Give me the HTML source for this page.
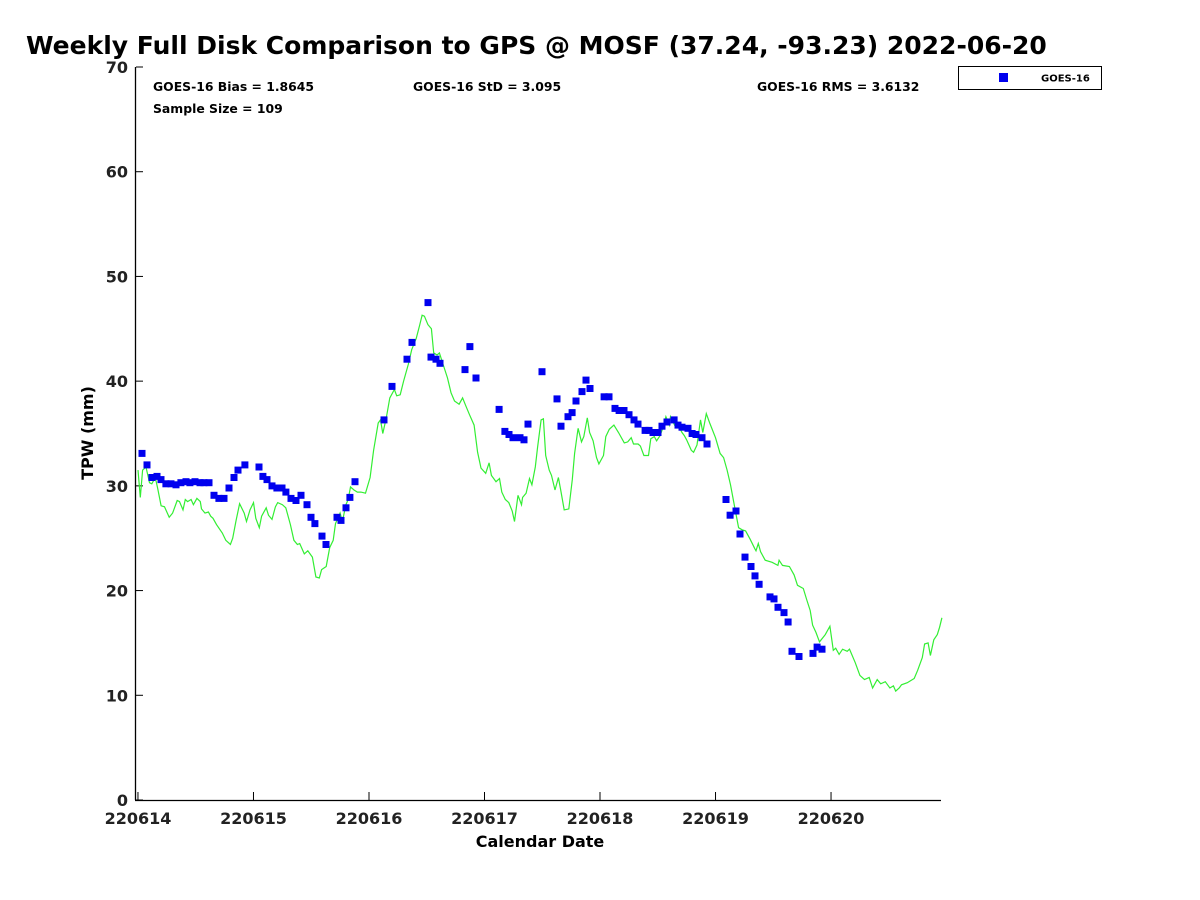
<!DOCTYPE html>
<html><head><meta charset="utf-8">
<style>
html,body{margin:0;padding:0;background:#fff;}
svg{display:block;font-family:"DejaVu Sans","Liberation Sans",sans-serif;}
</style></head>
<body>
<svg id="chart" width="1200" height="900" viewBox="0 0 1200 900">
<text x="26" y="54" font-size="25" font-weight="bold" fill="#000">Weekly Full Disk Comparison to GPS @ MOSF (37.24, -93.23) 2022-06-20</text>
<g id="axes"></g>
<g id="series"></g>
<text x="153" y="91" font-size="12.4" font-weight="bold">GOES-16 Bias = 1.8645</text>
<text x="153" y="113" font-size="12.4" font-weight="bold">Sample Size = 109</text>
<text x="413" y="91" font-size="12.4" font-weight="bold">GOES-16 StD = 3.095</text>
<text x="757" y="91" font-size="12.4" font-weight="bold">GOES-16 RMS = 3.6132</text>
<g>
<rect x="958.5" y="66.5" width="143" height="23" fill="#fff" stroke="#000"/>
<rect x="999" y="73" width="9" height="9" fill="#0000ee"/>
<text x="1041" y="81.5" font-size="10" font-weight="bold">GOES-16</text>
</g>
<text x="540" y="847" font-size="16" font-weight="bold" text-anchor="middle">Calendar Date</text>
<text transform="translate(93,433) rotate(-90)" font-size="16" font-weight="bold" text-anchor="middle">TPW (mm)</text>
</svg>
<script>
const xTickLabels = ["220614","220615","220616","220617","220618","220619","220620"];
const yTicks = [0,10,20,30,40,50,60,70];
const goesDays = [0.035,0.078,0.121,0.165,0.199,0.242,0.286,0.329,0.372,0.416,0.450,0.494,0.537,0.571,0.615,0.658,0.701,0.745,0.788,0.831,0.866,0.926,1.048,1.082,1.117,1.160,1.203,1.247,1.281,1.325,1.368,1.411,1.463,1.498,1.532,1.593,1.628,1.723,1.758,1.801,1.835,1.879,2.130,2.199,2.329,2.372,2.511,2.537,2.580,2.615,2.831,2.874,2.926,3.126,3.177,3.212,3.247,3.307,3.342,3.377,3.498,3.628,3.662,3.723,3.758,3.792,3.844,3.879,3.913,4.035,4.078,4.130,4.165,4.208,4.251,4.294,4.329,4.390,4.424,4.459,4.502,4.537,4.580,4.641,4.675,4.710,4.762,4.797,4.831,4.883,4.926,5.091,5.126,5.177,5.212,5.255,5.307,5.342,5.377,5.472,5.506,5.541,5.593,5.628,5.662,5.723,5.844,5.879,5.922];
const goesTpw = [33.1,32.0,30.8,30.9,30.6,30.2,30.2,30.1,30.3,30.4,30.3,30.4,30.3,30.3,30.3,29.1,28.8,28.8,29.8,30.8,31.5,32.0,31.8,30.9,30.6,30.0,29.8,29.8,29.4,28.8,28.6,29.1,28.2,27.0,26.4,25.2,24.4,27.0,26.7,27.9,28.9,30.4,36.3,39.5,42.1,43.7,47.5,42.3,42.1,41.7,41.1,43.3,40.3,37.3,35.2,34.9,34.6,34.6,34.4,35.9,40.9,38.3,35.7,36.6,37.0,38.1,39.0,40.1,39.3,38.5,38.5,37.4,37.2,37.2,36.8,36.3,35.9,35.3,35.3,35.1,35.1,35.7,36.1,36.3,35.8,35.6,35.5,35.0,34.9,34.6,34.0,28.7,27.2,27.6,25.4,23.2,22.3,21.4,20.6,19.4,19.2,18.4,17.9,17.0,14.2,13.7,14.0,14.6,14.4];
const gpsDays = [0.0,0.02,0.04,0.07,0.10,0.12,0.15,0.17,0.20,0.23,0.27,0.30,0.34,0.36,0.39,0.41,0.43,0.46,0.48,0.51,0.54,0.55,0.58,0.61,0.63,0.65,0.68,0.73,0.76,0.80,0.82,0.85,0.88,0.92,0.94,0.97,1.00,1.02,1.05,1.07,1.11,1.13,1.16,1.19,1.21,1.25,1.28,1.32,1.35,1.38,1.40,1.44,1.47,1.51,1.54,1.57,1.59,1.63,1.66,1.69,1.71,1.75,1.77,1.80,1.82,1.84,1.87,1.90,1.93,1.97,2.01,2.04,2.08,2.10,2.12,2.15,2.18,2.22,2.24,2.27,2.30,2.34,2.37,2.41,2.44,2.46,2.48,2.51,2.54,2.56,2.59,2.61,2.65,2.68,2.71,2.74,2.78,2.81,2.84,2.87,2.91,2.94,2.97,3.01,3.04,3.06,3.10,3.13,3.15,3.18,3.21,3.24,3.26,3.29,3.32,3.33,3.36,3.39,3.41,3.44,3.46,3.49,3.51,3.53,3.56,3.58,3.61,3.64,3.66,3.69,3.73,3.76,3.78,3.81,3.84,3.86,3.89,3.91,3.94,3.97,3.99,4.03,4.05,4.08,4.12,4.16,4.21,4.24,4.27,4.29,4.33,4.35,4.38,4.42,4.44,4.47,4.49,4.52,4.55,4.57,4.60,4.61,4.65,4.68,4.71,4.73,4.75,4.79,4.81,4.84,4.87,4.89,4.92,4.95,5.00,5.04,5.07,5.10,5.13,5.17,5.20,5.23,5.26,5.30,5.34,5.35,5.37,5.39,5.43,5.49,5.54,5.55,5.58,5.64,5.68,5.71,5.76,5.79,5.82,5.84,5.87,5.90,5.95,5.99,6.02,6.04,6.07,6.10,6.14,6.16,6.21,6.25,6.29,6.33,6.36,6.40,6.43,6.47,6.51,6.54,6.56,6.59,6.61,6.66,6.69,6.72,6.75,6.79,6.81,6.84,6.86,6.89,6.92,6.94,6.96];
const gpsTpw = [31.5,28.9,31.5,31.8,30.3,30.2,30.8,29.8,28.1,28.0,27.0,27.4,28.6,28.5,27.7,28.7,28.5,28.7,28.2,28.8,28.5,27.8,27.4,27.5,27.1,26.9,26.3,25.5,24.8,24.4,25.0,26.7,28.3,27.4,26.6,27.7,28.4,26.9,26.0,27.1,27.9,27.2,26.8,28.0,28.4,28.2,27.9,26.3,24.8,24.4,24.5,23.5,23.8,23.2,21.3,21.2,22.0,22.3,24.1,24.8,26.4,27.4,26.6,28.2,28.7,29.9,29.6,29.4,29.4,29.3,30.8,33.4,36.0,36.3,35.0,36.5,38.4,39.2,38.6,38.7,40.0,41.6,43.0,44.1,45.4,46.3,46.2,45.4,45.0,42.7,42.5,42.7,41.3,40.3,38.9,38.1,37.8,38.4,37.6,36.8,35.8,33.2,31.7,31.2,32.2,31.0,30.4,30.7,29.4,28.7,28.4,27.6,26.6,29.1,28.2,28.9,29.3,30.7,30.1,31.8,33.7,36.3,36.4,32.9,31.5,31.0,29.6,30.8,29.6,27.7,27.8,30.6,33.1,35.5,34.2,34.7,36.5,35.1,34.3,32.7,32.1,32.9,34.7,35.4,35.8,35.1,34.1,34.2,34.6,34.0,34.0,33.8,32.9,32.9,34.5,34.7,34.3,34.8,35.7,36.6,35.8,36.6,35.7,35.7,35.1,34.8,34.4,33.4,33.2,33.9,36.3,35.1,36.9,36.0,34.6,33.1,32.7,31.5,30.1,27.7,26.0,25.8,25.7,24.9,24.0,23.8,24.5,23.7,22.9,22.7,22.4,22.9,22.4,22.3,21.5,20.5,20.2,19.1,18.1,16.7,16.0,15.1,15.8,16.6,14.3,14.5,13.9,14.4,14.2,14.4,13.1,11.9,11.5,11.7,10.7,11.5,11.1,11.3,10.7,10.9,10.4,10.7,11.0,11.2,11.4,11.6,12.4,13.6,14.9,15.0,13.8,15.3,15.8,16.5,17.4];

const NS = "http://www.w3.org/2000/svg";
const L = 136, R = 941, T = 67, B = 800;
const X0 = -0.017, X1 = 6.952, Y0 = 0, Y1 = 70;
function xs(d){ return L + (d - X0) / (X1 - X0) * (R - L); }
function ys(v){ return B - (v - Y0) / (Y1 - Y0) * (B - T); }
function mk(tag, attrs, parent){ const e = document.createElementNS(NS, tag); for (const k in attrs) e.setAttribute(k, attrs[k]); parent.appendChild(e); return e; }

const axes = document.getElementById('axes');
const yAxis = mk('line', {x1:L-0.5,y1:T,x2:L-0.5,y2:B,stroke:'#000','stroke-width':1.3}, axes);


const xAxis = mk('line', {x1:L-1,y1:B+0.5,x2:R,y2:B+0.5,stroke:'#000','stroke-width':1.3}, axes);



yTicks.forEach(v => {
  const y = ys(v);
  const t = mk('line', {x1:L,y1:y,x2:L+7,y2:y,stroke:'#000','stroke-width':1}, axes);
  
  
  const lb = mk('text', {x:L-8,y:y+6,'font-size':16,'font-weight':'bold','text-anchor':'end',fill:'#222'}, axes);
  lb.textContent = v;
  
  
});
xTickLabels.forEach((s, i) => {
  const x = xs(i);
  const t = mk('line', {x1:x,y1:B,x2:x,y2:B-8,stroke:'#000','stroke-width':1}, axes);
  
  
  const lb = mk('text', {x:x,y:B+24,'font-size':16,'font-weight':'bold','text-anchor':'middle',fill:'#222'}, axes);
  lb.textContent = s;
  
  
});

const series = document.getElementById('series');
let d = '';
gpsDays.forEach((day, i) => { d += (i ? 'L' : 'M') + xs(day).toFixed(1) + ',' + ys(gpsTpw[i]).toFixed(1); });
const gpsLine = mk('path', {d:d,fill:'none',stroke:'#33ee33','stroke-width':1.2}, series);



goesDays.forEach((day, i) => {
  const r = mk('rect', {x:(xs(day)-3.5).toFixed(1),y:(ys(goesTpw[i])-3.5).toFixed(1),width:7,height:7,fill:'#0000ee'}, series);
  
  
});
</script>
</body></html>
